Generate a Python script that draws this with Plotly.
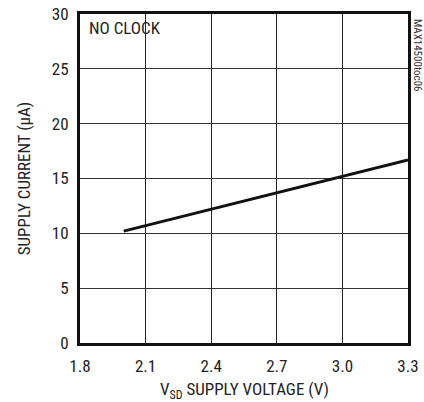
import plotly.graph_objects as go

voltage = [2.0, 2.1, 2.4, 2.7, 3.0, 3.3]
current = [10.2, 10.7, 12.2, 13.7, 15.2, 16.7]
x_ticks = [1.8, 2.1, 2.4, 2.7, 3.0, 3.3]
x_labels = ["1.8", "2.1", "2.4", "2.7", "3.0", "3.3"]
y_ticks = [0, 5, 10, 15, 20, 25, 30]

FONT = "Roboto Condensed, sans-serif"

fig = go.Figure()
fig.add_trace(go.Scatter(x=voltage, y=current, mode="lines",
                         line=dict(color="#111", width=3), showlegend=False,
                         hoverinfo="skip"))

fig.update_layout(
    width=424, height=402,
    margin=dict(l=80, r=16, t=14, b=59, autoexpand=False),
    paper_bgcolor="white", plot_bgcolor="white",
    font=dict(family=FONT, size=17, color="#222"),
    xaxis=dict(range=[1.8, 3.3], tickvals=x_ticks, ticktext=x_labels,
               showgrid=True, gridcolor="#222", gridwidth=1.2,
               zeroline=False, showline=True, linecolor="#111", linewidth=3,
               mirror=True, ticks="", ticklen=0, ticklabelstandoff=6),
    yaxis=dict(range=[0, 30], tickvals=y_ticks,
               showgrid=True, gridcolor="#333", gridwidth=1.2,
               zeroline=False, showline=True, linecolor="#111", linewidth=3,
               mirror=True, ticks="", ticklen=0, ticklabelstandoff=5,
               title=dict(text="SUPPLY CURRENT (µA)", standoff=17,
                          font=dict(size=17))),
    annotations=[
        dict(text="V<sub>SD</sub> SUPPLY VOLTAGE (V)", x=0.5, y=0, xref="paper",
             yref="paper", xanchor="center", yanchor="middle", yshift=-47,
             showarrow=False, font=dict(size=17, family=FONT, color="#222")),
        dict(text="MAX14500toc06", x=1.027, y=0.873, xref="paper", yref="paper",
             xanchor="center", yanchor="middle", textangle=90,
             showarrow=False, font=dict(size=11, family=FONT, color="#333")),
        dict(text="NO CLOCK", x=0.02, y=0.995, xref="paper", yref="paper",
             xanchor="left", yanchor="top", showarrow=False,
             font=dict(size=17, family=FONT, color="#222")),
    ],
)

fig.write_html("out.html", config={"displayModeBar": False},
               post_script="document.body.style.margin='0';document.body.style.overflow='hidden';")
